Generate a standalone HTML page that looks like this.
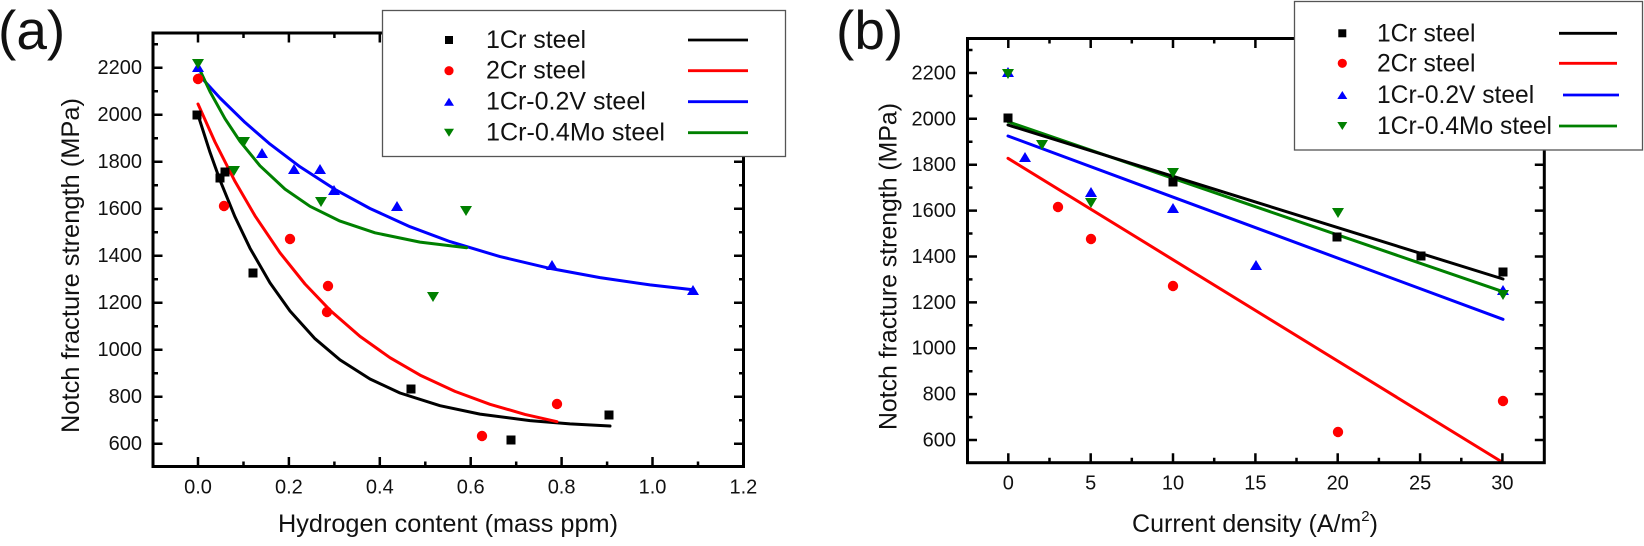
<!DOCTYPE html>
<html><head><meta charset="utf-8"><style>
html,body{margin:0;padding:0;background:#fff;}
svg{display:block;}
text{font-family:"Liberation Sans",Arial,sans-serif;fill:#111;}
</style></head><body>
<svg width="1644" height="546" viewBox="0 0 1644 546" xmlns="http://www.w3.org/2000/svg">
<rect width="1644" height="546" fill="#fff"/>

<!-- Panel labels -->
<text x="-2" y="49" font-size="55">(a)</text>
<text x="836" y="49" font-size="55">(b)</text>

<!-- ===== LEFT PLOT ===== -->
<g fill="none" stroke="#000" stroke-width="3" stroke-linejoin="round" stroke-linecap="round">
<polyline stroke="#000" points="199,118 210,152.3 220,180.2 235,216.9 250,248.2 270,282.9 290,311 315,338.7 340,359.9 370,379 400,393 440,405.7 480,414.1 530,420.6 570,423.9 610,426"/>
<polyline stroke="#ff0000" points="198,104 215,142 235,181.4 255,215.8 280,252.8 305,284 330,310.2 360,336.4 390,357.7 420,375.1 455,391.4 490,404.3 525,414.4 557,421.7"/>
<polyline stroke="#0000ff" points="199,75 220,98 245,122.4 270,144.1 300,166.8 335,189.4 370,208.5 410,226.7 450,241.6 500,256.6 550,268.4 600,277.6 650,284.9 693,289.8"/>
<polyline stroke="#008000" points="198,66 210,91.6 225,118.7 240,141.3 260,165.8 285,189.1 310,206.3 340,221.1 375,232.8 420,242.1 466.7,247.7"/>
</g>

<!-- left markers -->
<g fill="#000">
<rect x="192.5" y="110.5" width="9" height="9"/>
<rect x="215.5" y="173.5" width="9" height="9"/>
<rect x="220.5" y="167.5" width="9" height="9"/>
<rect x="248.5" y="268.5" width="9" height="9"/>
<rect x="406.5" y="384.5" width="9" height="9"/>
<rect x="506.5" y="435.5" width="9" height="9"/>
<rect x="604.5" y="410.5" width="9" height="9"/>
</g>
<g fill="#ff0000">
<circle cx="198" cy="79" r="5.2"/>
<circle cx="224" cy="206" r="5.2"/>
<circle cx="290" cy="239" r="5.2"/>
<circle cx="328" cy="286" r="5.2"/>
<circle cx="327" cy="312" r="5.2"/>
<circle cx="482" cy="436" r="5.2"/>
<circle cx="557" cy="404" r="5.2"/>
</g>
<g fill="#0000ff">
<polygon points="192,72 204,72 198,62"/>
<polygon points="256,158 268,158 262,148"/>
<polygon points="288,174 300,174 294,164"/>
<polygon points="314,174 326,174 320,164"/>
<polygon points="328,195 340,195 334,185"/>
<polygon points="391,211 403,211 397,201"/>
<polygon points="546,270 558,270 552,260"/>
<polygon points="687,295 699,295 693,285"/>
</g>
<g fill="#008000">
<polygon points="192,59 204,59 198,69"/>
<polygon points="238,137 250,137 244,147"/>
<polygon points="228,166 240,166 234,176"/>
<polygon points="315,197 327,197 321,207"/>
<polygon points="427,292 439,292 433,302"/>
<polygon points="460,206 472,206 466,216"/>
</g>

<!-- left frame & ticks -->
<rect x="153" y="33" width="590.5" height="433.5" fill="none" stroke="#000" stroke-width="3"/>
<path fill="none" stroke="#000" stroke-width="2.5" d="
M198 466.5V457M288.9 466.5V457M379.8 466.5V457M470.7 466.5V457M561.6 466.5V457M652.5 466.5V457
M243.5 466.5V461.5M334.4 466.5V461.5M425.3 466.5V461.5M516.2 466.5V461.5M607.1 466.5V461.5M698 466.5V461.5
M198 33V42.5M288.9 33V42.5M379.8 33V42.5M470.7 33V42.5M561.6 33V42.5M652.5 33V42.5
M243.5 33V38M334.4 33V38M425.3 33V38M516.2 33V38M607.1 33V38M698 33V38
M153 443.7H162.5M153 396.7H162.5M153 349.7H162.5M153 302.7H162.5M153 255.7H162.5M153 208.7H162.5M153 161.7H162.5M153 114.7H162.5M153 67.7H162.5
M153 420.2H158M153 373.2H158M153 326.2H158M153 279.2H158M153 232.2H158M153 185.2H158M153 138.2H158M153 91.2H158M153 44.2H158
M743.5 443.7H734M743.5 396.7H734M743.5 349.7H734M743.5 302.7H734M743.5 255.7H734M743.5 208.7H734M743.5 161.7H734M743.5 114.7H734M743.5 67.7H734
M743.5 420.2H739M743.5 373.2H739M743.5 326.2H739M743.5 279.2H739M743.5 232.2H739M743.5 185.2H739M743.5 138.2H739M743.5 91.2H739M743.5 44.2H739
"/>

<!-- left tick labels -->
<g font-size="20" text-anchor="end">
<text x="142" y="450.2">600</text>
<text x="142" y="403.2">800</text>
<text x="142" y="356.2">1000</text>
<text x="142" y="309.2">1200</text>
<text x="142" y="262.2">1400</text>
<text x="142" y="215.2">1600</text>
<text x="142" y="168.2">1800</text>
<text x="142" y="121.2">2000</text>
<text x="142" y="74.2">2200</text>
</g>
<g font-size="20" text-anchor="middle">
<text x="198" y="493.5">0.0</text>
<text x="288.9" y="493.5">0.2</text>
<text x="379.8" y="493.5">0.4</text>
<text x="470.7" y="493.5">0.6</text>
<text x="561.6" y="493.5">0.8</text>
<text x="652.5" y="493.5">1.0</text>
<text x="743.4" y="493.5">1.2</text>
</g>
<text x="448" y="532" font-size="25" text-anchor="middle" textLength="340" lengthAdjust="spacingAndGlyphs">Hydrogen content (mass ppm)</text>
<text transform="translate(79,265.5) rotate(-90)" font-size="25" text-anchor="middle" textLength="335" lengthAdjust="spacingAndGlyphs">Notch fracture strength (MPa)</text>

<!-- left legend -->
<rect x="382.5" y="10.5" width="403" height="146" fill="#fff" stroke="#555" stroke-width="1.3"/>
<rect x="445" y="36" width="8" height="8" fill="#000"/>
<circle cx="449" cy="70.7" r="4.6" fill="#ff0000"/>
<polygon points="444,105.7 454,105.7 449,97.7" fill="#0000ff"/>
<polygon points="444,128.7 454,128.7 449,136.7" fill="#008000"/>
<g font-size="25">
<text x="486" y="48">1Cr steel</text>
<text x="486" y="78.7">2Cr steel</text>
<text x="486" y="109.7">1Cr-0.2V steel</text>
<text x="486" y="140.7" textLength="179" lengthAdjust="spacingAndGlyphs">1Cr-0.4Mo steel</text>
</g>
<g stroke-width="2.8">
<line x1="688" y1="40" x2="748" y2="40" stroke="#000"/>
<line x1="688" y1="70.7" x2="748" y2="70.7" stroke="#ff0000"/>
<line x1="688" y1="101.7" x2="748" y2="101.7" stroke="#0000ff"/>
<line x1="688" y1="132.7" x2="748" y2="132.7" stroke="#008000"/>
</g>

<!-- ===== RIGHT PLOT ===== -->
<g fill="none" stroke-width="3" stroke-linecap="round">
<line x1="1008" y1="158.3" x2="1502" y2="462" stroke="#ff0000"/>
<line x1="1008" y1="136" x2="1503" y2="319.3" stroke="#0000ff"/>
<line x1="1008" y1="121.7" x2="1503" y2="291.7" stroke="#008000"/>
<line x1="1008" y1="125" x2="1503" y2="279" stroke="#000"/>
</g>

<g fill="#000">
<rect x="1003.5" y="113.5" width="9" height="9"/>
<rect x="1168.5" y="177.5" width="9" height="9"/>
<rect x="1332.5" y="232.5" width="9" height="9"/>
<rect x="1416.5" y="251.5" width="9" height="9"/>
<rect x="1498.5" y="267.5" width="9" height="9"/>
</g>
<g fill="#ff0000">
<circle cx="1058" cy="207" r="5.2"/>
<circle cx="1091" cy="239" r="5.2"/>
<circle cx="1173" cy="286" r="5.2"/>
<circle cx="1338" cy="432" r="5.2"/>
<circle cx="1503" cy="401" r="5.2"/>
</g>
<g fill="#0000ff">
<polygon points="1002,77 1014,77 1008,67"/>
<polygon points="1019,162 1031,162 1025,152"/>
<polygon points="1085,197 1097,197 1091,187"/>
<polygon points="1167,213 1179,213 1173,203"/>
<polygon points="1250,270 1262,270 1256,260"/>
<polygon points="1497,295 1509,295 1503,285"/>
</g>
<g fill="#008000">
<polygon points="1002,69 1014,69 1008,79"/>
<polygon points="1036,140 1048,140 1042,150"/>
<polygon points="1085,198 1097,198 1091,208"/>
<polygon points="1167,168 1179,168 1173,178"/>
<polygon points="1332,208 1344,208 1338,218"/>
<polygon points="1497,290 1509,290 1503,300"/>
</g>

<rect x="967.5" y="38.5" width="576.8" height="424.2" fill="none" stroke="#000" stroke-width="3"/>
<path fill="none" stroke="#000" stroke-width="2.5" d="
M1008.3 462.7V453.2M1090.7 462.7V453.2M1173 462.7V453.2M1255.4 462.7V453.2M1337.7 462.7V453.2M1420.1 462.7V453.2M1502.4 462.7V453.2
M1049.5 462.7V457.7M1131.8 462.7V457.7M1214.2 462.7V457.7M1296.5 462.7V457.7M1378.9 462.7V457.7M1461.3 462.7V457.7
M1008.3 38.5V48M1090.7 38.5V48M1173 38.5V48M1255.4 38.5V48M1337.7 38.5V48M1420.1 38.5V48M1502.4 38.5V48
M1049.5 38.5V43.5M1131.8 38.5V43.5M1214.2 38.5V43.5M1296.5 38.5V43.5M1378.9 38.5V43.5M1461.3 38.5V43.5
M967.5 440H977M967.5 394.1H977M967.5 348.2H977M967.5 302.4H977M967.5 256.5H977M967.5 210.6H977M967.5 164.7H977M967.5 118.8H977M967.5 73H977
M967.5 417.1H972.5M967.5 371.2H972.5M967.5 325.3H972.5M967.5 279.4H972.5M967.5 233.5H972.5M967.5 187.6H972.5M967.5 141.8H972.5M967.5 95.9H972.5M967.5 50H972.5
M1544.3 440H1534.8M1544.3 394.1H1534.8M1544.3 348.2H1534.8M1544.3 302.4H1534.8M1544.3 256.5H1534.8M1544.3 210.6H1534.8M1544.3 164.7H1534.8M1544.3 118.8H1534.8M1544.3 73H1534.8
M1544.3 417.1H1539.3M1544.3 371.2H1539.3M1544.3 325.3H1539.3M1544.3 279.4H1539.3M1544.3 233.5H1539.3M1544.3 187.6H1539.3M1544.3 141.8H1539.3M1544.3 95.9H1539.3M1544.3 50H1539.3
"/>

<g font-size="20" text-anchor="end">
<text x="956" y="446.5">600</text>
<text x="956" y="400.6">800</text>
<text x="956" y="354.7">1000</text>
<text x="956" y="308.9">1200</text>
<text x="956" y="263">1400</text>
<text x="956" y="217.1">1600</text>
<text x="956" y="171.2">1800</text>
<text x="956" y="125.3">2000</text>
<text x="956" y="79.5">2200</text>
</g>
<g font-size="20" text-anchor="middle">
<text x="1008.3" y="489.5">0</text>
<text x="1090.7" y="489.5">5</text>
<text x="1173" y="489.5">10</text>
<text x="1255.4" y="489.5">15</text>
<text x="1337.7" y="489.5">20</text>
<text x="1420.1" y="489.5">25</text>
<text x="1502.4" y="489.5">30</text>
</g>
<text x="1255" y="532" font-size="25" text-anchor="middle">Current density (A/m<tspan font-size="15" dy="-11">2</tspan><tspan dy="11">)</tspan></text>
<text transform="translate(896.7,266.5) rotate(-90)" font-size="25" text-anchor="middle" textLength="327" lengthAdjust="spacingAndGlyphs">Notch fracture strength (MPa)</text>

<!-- right legend -->
<rect x="1294.5" y="1.5" width="348" height="148.5" fill="#fff" stroke="#555" stroke-width="1.3"/>
<rect x="1338.3" y="29.3" width="8" height="8" fill="#000"/>
<circle cx="1342.3" cy="63.3" r="4.6" fill="#ff0000"/>
<polygon points="1337.3,99 1347.3,99 1342.3,91" fill="#0000ff"/>
<polygon points="1337.3,122 1347.3,122 1342.3,130" fill="#008000"/>
<g font-size="24.6">
<text x="1377" y="41.7">1Cr steel</text>
<text x="1377" y="71.7">2Cr steel</text>
<text x="1377" y="103.2">1Cr-0.2V steel</text>
<text x="1377" y="134.2" textLength="175" lengthAdjust="spacingAndGlyphs">1Cr-0.4Mo steel</text>
</g>
<g stroke-width="2.8">
<line x1="1559" y1="33.3" x2="1617" y2="33.3" stroke="#000"/>
<line x1="1559" y1="63.3" x2="1617" y2="63.3" stroke="#ff0000"/>
<line x1="1563" y1="95" x2="1619" y2="95" stroke="#0000ff"/>
<line x1="1559" y1="126" x2="1617" y2="126" stroke="#008000"/>
</g>
</svg>
</body></html>
